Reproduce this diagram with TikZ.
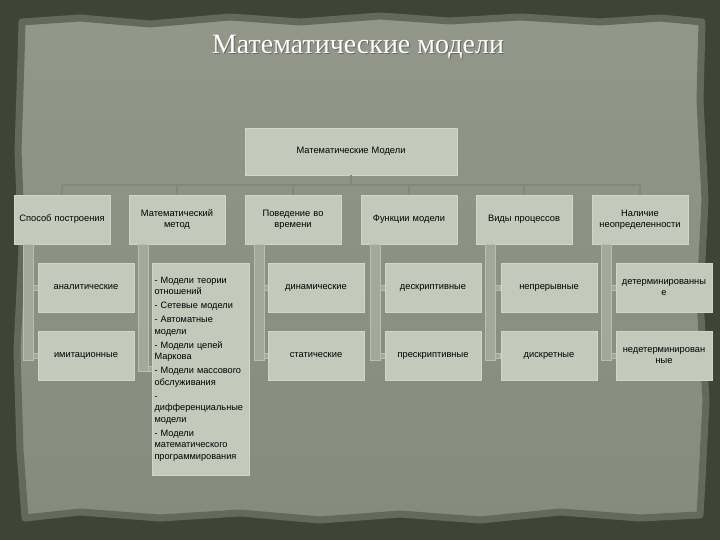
\documentclass[tikz,border=0pt]{standalone}
\usepackage{fontspec}
\setmainfont{Liberation Sans}
\newfontfamily\titlefont{Liberation Serif}
\definecolor{frame}{HTML}{3F4536}
\definecolor{paperedge}{HTML}{646A59}
\definecolor{papertop}{HTML}{93978A}
\definecolor{paperbot}{HTML}{868B7E}
\definecolor{boxfill}{HTML}{C5C9BC}
\definecolor{boxline}{HTML}{D2D5C9}
\definecolor{barfill}{HTML}{A3A899}
\definecolor{baredge}{HTML}{BBBFB1}
\definecolor{topline}{HTML}{838979}
\tikzset{
  box/.style={draw=boxline, fill=boxfill, line width=0.8pt, minimum width=96pt, minimum height=49pt,
    inner sep=2pt, align=center, text width=92pt, font=\fontsize{9.3}{10.8}\selectfont, text=black},
  bar/.style={draw=baredge, line width=0.6pt, fill=barfill},
  lvlone/.style={draw=topline, line width=2.5pt},
}
\begin{document}
\begin{tikzpicture}[x=1pt,y=-1pt]
\useasboundingbox (0,0) rectangle (720,540);
\fill[frame] (0,0) rectangle (720,540);
% paper
\path[draw=paperedge, line width=7pt, top color=papertop, bottom color=paperbot, line join=round]
  (22,22) -- (80,18) -- (150,24) -- (230,17) -- (300,22) -- (380,16) -- (450,21) -- (520,17) -- (600,22)
  -- (660,18) -- (702,22) -- (700,100) -- (705,200) -- (700,300) -- (706,400) -- (702,480) -- (700,515)
  -- (640,518) -- (560,512) -- (480,520) -- (400,514) -- (320,520) -- (240,513) -- (160,518) -- (80,512)
  -- (25,518) -- (20,450) -- (17,350) -- (22,250) -- (18,150) -- (21,60) -- cycle;

% title
\node[font=\titlefont\fontsize{28}{31}\selectfont, text=black!70, opacity=0.6] at (359,48) {Математические модели};
\node (title) [font=\titlefont\fontsize{28}{31}\selectfont, text=white] at (358,47) {Математические модели};

% top box
\node (top) [box, minimum width=212pt, minimum height=47pt, text width=200pt] at (351,151.5) {Математические Модели};

% level 2
\node (c1) [box] at (62,219.5) {Способ построения};
\node (c2) [box] at (177,219.5) {Математический\\метод};
\node (c3) [box] at (293,219.5) {Поведение во\\времени};
\node (c4) [box] at (409,219.5) {Функции модели};
\node (c5) [box] at (524,219.5) {Виды процессов};
\node (c6) [box] at (640,219.5) {Наличие\\неопределенности};

% level-1 connectors
\coordinate (j) at (351,185);
\draw[lvlone] (top.south) -- (j);
\draw[lvlone] (62,185) -- (640,185);
\foreach \n in {c1,c2,c3,c4,c5,c6} \draw[lvlone] (\n.north |- j) -- (\n.north);

% level-2 connectors (bars)
\foreach \x in {14,245,361,476,592} {
  \filldraw[bar] (\x+9,244) rectangle (\x+19,360.5);
  \filldraw[bar] (\x+19,285) rectangle (\x+24,290);
  \filldraw[bar] (\x+19,353) rectangle (\x+24,358);
}
\filldraw[bar] (138,244) rectangle (148,371.5);
\filldraw[bar] (148,366.5) rectangle (152,371.5);

% level 3
\node (a1) [box] at (86,287.5) {аналитические};
\node (b1) [box] at (86,355.5) {имитационные};
\node (a3) [box] at (316,287.5) {динамические};
\node (b3) [box] at (316,355.5) {статические};
\node (a4) [box] at (433,287.5) {дескриптивные};
\node (b4) [box] at (433,355.5) {прескриптивные};
\node (a5) [box] at (549,287.5) {непрерывные};
\node (b5) [box] at (549,355.5) {дискретные};
\node (a6) [box] at (664,287.5) {детерминированны\\е};
\node (b6) [box] at (664,355.5) {недетерминирован\\ные};

\node (list) [box, minimum width=97pt, minimum height=212pt, align=left, text width=92pt,
  font=\fontsize{9.2}{11.5}\selectfont] at (200.5,369) {%
- Модели теории\\отношений\\[2.5pt]
- Сетевые модели\\[2.5pt]
- Автоматные\\модели\\[2.5pt]
- Модели цепей\\Маркова\\[2.5pt]
- Модели массового\\обслуживания\\[2.5pt]
-\\дифференциальные\\модели\\[2.5pt]
- Модели\\математического\\программирования};
\end{tikzpicture}
\end{document}
